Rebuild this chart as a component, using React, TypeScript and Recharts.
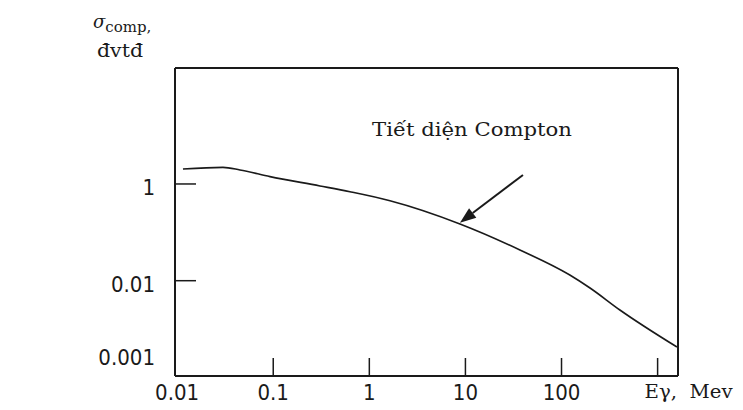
import { LineChart, Line, XAxis, YAxis, ReferenceLine } from 'recharts';

// Compton cross-section vs gamma energy (log-log)
const energy = [0.0115, 0.03, 0.045, 0.0925, 0.306, 0.628, 1.64, 8.77, 36.9, 122, 198, 405, 1590];
const sigma = [2.04, 2.2, 1.95, 1.42, 0.91, 0.69, 0.45, 0.149, 0.0432, 0.0131, 0.00706, 0.00248, 0.000425];

const xTicks = [0.01, 0.1, 1, 10, 100, 1000];
const xTickLabels = ['0.01', '0.1', '1', '10', '100', 'Eγ,\u00a0 Mev'];
const yTicks = [0.001, 0.01, 1];
const yTickLabels = ['0.001', '0.01', '1'];

const arrowFrom = { e: 39.7, s: 1.535 };
const arrowTo = { e: 8.77, s: 0.158 };

const xDomain = [0.0095, 1630];
const yDomain = [1.07e-4, 250];

const data = energy.map((e, i) => ({ e, s: sigma[i] }));

const INK = '#1a1a1a';
const NUM_FONT = '"Liberation Sans Narrow", "DejaVu Sans Condensed", sans-serif';
const SERIF = '"DejaVu Serif", serif';
const PLOT_BOTTOM = 376;

function XTick(props: any) {
    const { x, y, payload } = props;
    const i = xTicks.indexOf(payload.value);
    const isLast = payload.value === 1000;
    return (
        <g>
            {payload.value !== 0.01 && <line x1={x} y1={y} x2={x} y2={y - 18} stroke={INK} strokeWidth={1.5} />}
            {isLast ? (
                <text
                    x={x - 13}
                    y={y + 22}
                    textAnchor="start"
                    fontFamily={SERIF}
                    fontSize={18}
                    fill={INK}
                    textLength={88}
                    lengthAdjust="spacingAndGlyphs"
                >
                    {xTickLabels[i]}
                </text>
            ) : (
                <text x={x} y={y + 24} textAnchor="middle" fontFamily={NUM_FONT} fontSize={22} fill={INK}>
                    {xTickLabels[i]}
                </text>
            )}
        </g>
    );
}

function YTick(props: any) {
    const { x, y, payload } = props;
    const i = yTicks.indexOf(payload.value);
    if (payload.value === 0.001) {
        return (
            <text x={x - 20} y={PLOT_BOTTOM - 11} textAnchor="end" fontFamily={NUM_FONT} fontSize={22} fill={INK}>
                {yTickLabels[i]}
            </text>
        );
    }
    return (
        <g>
            <line x1={x} y1={y} x2={x + 21} y2={y} stroke={INK} strokeWidth={1.5} />
            <text x={x - 20} y={y + 11} textAnchor="end" fontFamily={NUM_FONT} fontSize={22} fill={INK}>
                {yTickLabels[i]}
            </text>
        </g>
    );
}

function Arrow(props: any) {
    const { x1, y1, x2, y2 } = props;
    const dx = x2 - x1;
    const dy = y2 - y1;
    const len = Math.sqrt(dx * dx + dy * dy);
    const ux = dx / len;
    const uy = dy / len;
    const head = 16;
    const half = 6;
    const bx = x2 - ux * head;
    const by = y2 - uy * head;
    return (
        <g>
            <line x1={x1} y1={y1} x2={bx} y2={by} stroke={INK} strokeWidth={2} />
            <polygon
                points={`${x2},${y2} ${bx - uy * half},${by + ux * half} ${bx + uy * half},${by - ux * half}`}
                fill={INK}
            />
        </g>
    );
}

export default function App() {
    return (
        <div style={{ position: 'absolute', left: 0, top: 0, width: 743, height: 410, background: '#fff' }}>
            <LineChart width={743} height={410} data={data} margin={{ top: 68, right: 65, bottom: 0, left: 0 }}>
                <XAxis
                    dataKey="e"
                    type="number"
                    scale="log"
                    domain={xDomain}
                    allowDataOverflow
                    ticks={xTicks}
                    interval={0}
                    height={34}
                    tickSize={0}
                    tickMargin={0}
                    tickLine={false}
                    axisLine={{ stroke: INK, strokeWidth: 2 }}
                    tick={<XTick />}
                />
                <YAxis
                    dataKey="s"
                    type="number"
                    scale="log"
                    domain={yDomain}
                    allowDataOverflow
                    ticks={yTicks}
                    interval={0}
                    width={175}
                    tickSize={0}
                    tickMargin={0}
                    tickLine={false}
                    axisLine={{ stroke: INK, strokeWidth: 2 }}
                    tick={<YTick />}
                />
                <ReferenceLine y={yDomain[1]} stroke={INK} strokeWidth={2} ifOverflow="visible" />
                <ReferenceLine x={xDomain[1]} stroke={INK} strokeWidth={2} ifOverflow="visible" />
                <ReferenceLine
                    segment={[
                        { x: arrowFrom.e, y: arrowFrom.s },
                        { x: arrowTo.e, y: arrowTo.s },
                    ]}
                    ifOverflow="visible"
                    shape={<Arrow />}
                />
                <Line
                    type="monotone"
                    dataKey="s"
                    stroke={INK}
                    strokeWidth={1.6}
                    dot={false}
                    isAnimationActive={false}
                />
            </LineChart>
            <svg
                width={743}
                height={410}
                style={{ position: 'absolute', left: 0, top: 0, pointerEvents: 'none' }}
            >
                <text x={93} y={28} fontFamily={SERIF} fill={INK}>
                    <tspan fontSize={18} fontStyle="italic">σ</tspan>
                    <tspan fontSize={15} dy={4}>comp,</tspan>
                </text>
                <text x={97} y={57} fontFamily={SERIF} fontSize={19} fill={INK} textLength={46} lengthAdjust="spacingAndGlyphs">
                    đvtđ
                </text>
                <text
                    x={372}
                    y={136}
                    fontFamily={SERIF}
                    fontSize={19}
                    fill={INK}
                    textLength={200}
                    lengthAdjust="spacingAndGlyphs"
                >
                    Tiết diện Compton
                </text>
            </svg>
        </div>
    );
}
